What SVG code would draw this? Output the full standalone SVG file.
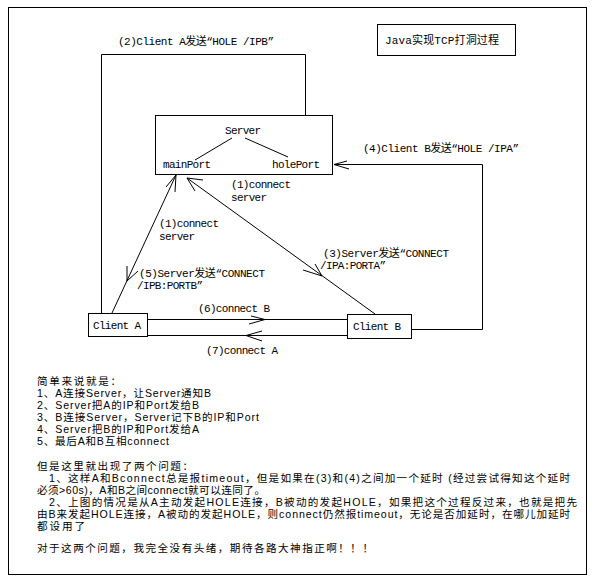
<svg xmlns="http://www.w3.org/2000/svg" width="597" height="583" viewBox="0 0 597 583">
<style>
.box{fill:#fff;stroke:#000;stroke-width:1}
.ln{fill:none;stroke:#000;stroke-width:1}
.lbl{font-family:"Liberation Mono","Noto Sans CJK SC",monospace;font-size:11px;fill:#000}
.note{font-family:"Liberation Sans","Noto Sans CJK SC",sans-serif;font-size:10.6px;fill:#000}
</style>
<rect width="597" height="583" fill="#fff"/>
<rect x="8.5" y="7.5" width="578" height="567" class="ln"/>
<g id="title">
<rect x="377.5" y="24.5" width="138" height="31" class="box"/>
<text x="385" y="44" class="lbl" textLength="114">Java实现TCP打洞过程</text>
</g>
<g id="connectors">
<path class="ln" d="M101.5,313 V54.5 H305.5 V160"/>
<path class="ln" d="M300,148 L305.5,160 L311,148"/>
<path class="ln" d="M411,329.5 H482.5 V164.5 H334"/>
<path class="ln" d="M347,161 L334,164.5 L349,169"/>
<path class="ln" d="M147,319.5 H347"/>
<path class="ln" d="M251,316 L265,319.5 L249,324"/>
<path class="ln" d="M147,335.5 H347"/>
<path class="ln" d="M262,331 L246,335.5 L262,341"/>
<path class="ln" d="M112,313 L176,175"/>
<path class="ln" d="M175,192 L176,175 L166,187"/>
<path class="ln" d="M375,314 L187,178"/>
<path class="ln" d="M203,180 L187,178 L195,191"/>
<path class="ln" d="M315,264 L322,276 L303,270"/>
<path class="ln" d="M127,266 L127,281 L138,271"/>
<text x="118" y="45" class="lbl" textLength="156">(2)Client A发送“HOLE /IPB”</text>
<text x="363" y="152" class="lbl" textLength="156">(4)Client B发送“HOLE /IPA”</text>
<text x="231" y="188" class="lbl" textLength="60">(1)connect</text>
<text x="231" y="201" class="lbl" textLength="36">server</text>
<text x="159" y="227" class="lbl" textLength="60">(1)connect</text>
<text x="159" y="240" class="lbl" textLength="36">server</text>
<text x="323" y="257" class="lbl" textLength="126">(3)Server发送“CONNECT</text>
<text x="320" y="269" class="lbl" textLength="66">/IPA:PORTA”</text>
<text x="139" y="277" class="lbl" textLength="126">(5)Server发送“CONNECT</text>
<text x="137" y="289" class="lbl" textLength="66">/IPB:PORTB”</text>
<text x="198" y="312" class="lbl" textLength="72">(6)connect B</text>
<text x="206" y="354" class="lbl" textLength="72">(7)connect A</text>
</g>
<g id="server">
<rect x="155.5" y="115.5" width="177" height="59" class="box"/>
<text x="225" y="134" class="lbl" textLength="36">Server</text>
<path class="ln" d="M232,138 L195,160 M245,138 L288,157"/>
<text x="163" y="168" class="lbl" textLength="48">mainPort</text>
<text x="272" y="168" class="lbl" textLength="48">holePort</text>
</g>
<g id="clientA">
<rect x="88.5" y="313.5" width="59" height="23" class="box"/>
<text x="93" y="329" class="lbl" textLength="48">Client A</text>
</g>
<g id="clientB">
<rect x="347.5" y="314.5" width="64" height="24" class="box"/>
<text x="353" y="330" class="lbl" textLength="48">Client B</text>
</g>
<g id="notes" class="note">
<text x="37" y="385" textLength="84">简单来说就是：</text>
<text x="37" y="397" textLength="174">1、A连接Server，让Server通知B</text>
<text x="37" y="409" textLength="162">2、Server把A的IP和Port发给B</text>
<text x="37" y="421" textLength="222">3、B连接Server，Server记下B的IP和Port</text>
<text x="37" y="433" textLength="162">4、Server把B的IP和Port发给A</text>
<text x="37" y="445" textLength="132">5、最后A和B互相connect</text>
<text x="37" y="470" textLength="156">但是这里就出现了两个问题：</text>
<text x="49" y="482" textLength="521">1、这样A和Bconnect总是报timeout，但是如果在(3)和(4)之间加一个延时 (经过尝试得知这个延时</text>
<text x="37" y="494" textLength="228">必须&gt;60s)，A和B之间connect就可以连同了。</text>
<text x="49" y="506" textLength="528">2、上图的情况是从A主动发起HOLE连接，B被动的发起HOLE，如果把这个过程反过来，也就是把先</text>
<text x="37" y="518" textLength="533">由B来发起HOLE连接，A被动的发起HOLE，则connect仍然报timeout，无论是否加延时，在哪儿加延时</text>
<text x="37" y="530" textLength="48">都设用了</text>
<text x="37" y="552" textLength="336">对于这两个问题，我完全没有头绪，期待各路大神指正啊！！！</text>
</g>
</svg>
